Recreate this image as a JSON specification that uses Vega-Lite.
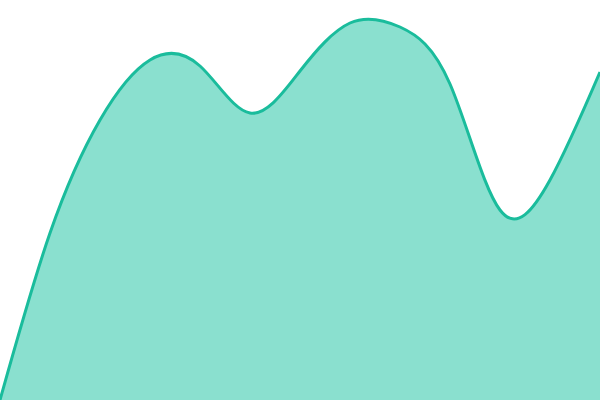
{
  "$schema": "https://vega.github.io/schema/vega-lite/v6.json",
  "width": 600,
  "height": 400,
  "autosize": {"type": "none"},
  "padding": 0,
  "background": "white",
  "config": {"view": {"stroke": null}},
  "data": {
    "values": [
      {"x": 0, "y": 0},
      {"x": 50, "y": 167},
      {"x": 100, "y": 280},
      {"x": 150, "y": 340},
      {"x": 200, "y": 334},
      {"x": 250, "y": 287},
      {"x": 300, "y": 329},
      {"x": 350, "y": 377},
      {"x": 400, "y": 373},
      {"x": 450, "y": 316},
      {"x": 500, "y": 190},
      {"x": 550, "y": 220},
      {"x": 600, "y": 328}
    ]
  },
  "encoding": {
    "x": {"field": "x", "type": "quantitative", "scale": {"domain": [0, 600], "nice": false, "zero": false}, "axis": null},
    "y": {"field": "y", "type": "quantitative", "scale": {"domain": [0, 400], "nice": false}, "axis": null}
  },
  "mark": {
    "type": "area",
    "interpolate": "natural",
    "color": "#8ae0cf",
    "opacity": 1,
    "line": {"color": "#1abc9c", "strokeWidth": 3}
  }
}
